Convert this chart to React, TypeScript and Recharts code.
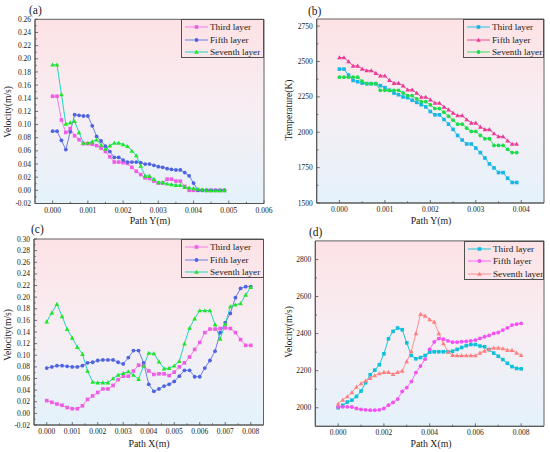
import React from "react";
import { LineChart, Line, XAxis, YAxis, CartesianGrid, ReferenceArea, Legend } from "recharts";

const FONT = "'Liberation Serif', 'Times New Roman', serif";
const AXIS = "#505050";

// (a) velocity along path Y
const pathYA = [0, 0.000125, 0.00025, 0.000375, 0.0005, 0.000625, 0.00075, 0.000875, 0.001, 0.001125,
  0.00125, 0.001375, 0.0015, 0.001625, 0.00175, 0.001875, 0.002, 0.002125, 0.00225, 0.002375,
  0.0025, 0.002625, 0.00275, 0.002875, 0.003, 0.003125, 0.00325, 0.003375, 0.0035, 0.003625,
  0.00375, 0.003875, 0.004, 0.004125, 0.00425, 0.004375, 0.0045, 0.004625, 0.00475, 0.004875];
const thirdA = [0.143, 0.143, 0.107, 0.088, 0.094, 0.083, 0.077, 0.071, 0.071, 0.070,
  0.068, 0.064, 0.059, 0.051, 0.043, 0.043, 0.042, 0.041, 0.035, 0.029,
  0.024, 0.019, 0.018, 0.014, 0.011, 0.011, 0.017, 0.017, 0.014, 0.014,
  0.006, 0, 0, 0, 0, 0, 0, 0, 0, 0];
const fifthA = [0.090, 0.090, 0.076, 0.062, 0.089, 0.115, 0.114, 0.113, 0.113, 0.098,
  0.082, 0.075, 0.067, 0.059, 0.050, 0.050, 0.046, 0.043, 0.043, 0.043,
  0.042, 0.040, 0.040, 0.038, 0.036, 0.035, 0.033, 0.032, 0.031, 0.031,
  0.027, 0.022, 0.011, 0, 0, 0, 0, 0, 0, 0];
const seventhA = [0.191, 0.191, 0.146, 0.101, 0.103, 0.105, 0.088, 0.072, 0.072, 0.074,
  0.077, 0.069, 0.063, 0.068, 0.072, 0.072, 0.070, 0.067, 0.060, 0.053,
  0.037, 0.022, 0.022, 0.017, 0.012, 0.012, 0.010, 0.009, 0.008, 0.008,
  0.005, 0.004, 0.003, 0.002, 0.001, 0, 0, 0, 0, 0];

// (b) temperature along path Y
const pathYB = [0, 0.0001, 0.0002, 0.0003, 0.0004, 0.0005, 0.0006, 0.0007, 0.0008, 0.0009,
  0.001, 0.0011, 0.0012, 0.0013, 0.0014, 0.0015, 0.0016, 0.0017, 0.0018, 0.0019,
  0.002, 0.0021, 0.0022, 0.0023, 0.0024, 0.0025, 0.0026, 0.0027, 0.0028, 0.0029,
  0.003, 0.0031, 0.0032, 0.0033, 0.0034, 0.0035, 0.0036, 0.0037, 0.0038, 0.0039];
const thirdB = [2446, 2446, 2404, 2366, 2357, 2347, 2343, 2343, 2343, 2329,
  2315, 2296, 2277, 2265, 2249, 2244, 2226, 2211, 2195, 2179,
  2146, 2123, 2123, 2090, 2057, 2020, 1977, 1945, 1917, 1917,
  1888, 1856, 1818, 1776, 1748, 1715, 1715, 1675, 1645, 1645];
const fifthB = [2528, 2528, 2500, 2469, 2469, 2448, 2436, 2436, 2418, 2399,
  2399, 2368, 2347, 2347, 2329, 2300, 2300, 2277, 2249, 2249,
  2230, 2207, 2207, 2179, 2160, 2137, 2118, 2118, 2090, 2066,
  2066, 2038, 2020, 2020, 1991, 1970, 1970, 1940, 1917, 1917];
const seventhB = [2389, 2389, 2389, 2389, 2389, 2361, 2343, 2343, 2343, 2296,
  2296, 2296, 2296, 2296, 2277, 2258, 2258, 2235, 2216, 2216,
  2193, 2167, 2167, 2141, 2113, 2085, 2057, 2057, 2029, 2006,
  2006, 1977, 1954, 1954, 1907, 1907, 1907, 1879, 1856, 1856];

// (c) velocity and (d) temperature along path X
const pathX = [0, 0.0002, 0.0004, 0.0006, 0.0008, 0.001, 0.0012, 0.0014, 0.0016, 0.0018,
  0.002, 0.0022, 0.0024, 0.0026, 0.0028, 0.003, 0.0032, 0.0034, 0.0036, 0.0038,
  0.004, 0.0042, 0.0044, 0.0046, 0.0048, 0.005, 0.0052, 0.0054, 0.0056, 0.0058,
  0.006, 0.0062, 0.0064, 0.0066, 0.0068, 0.007, 0.0072, 0.0074, 0.0076, 0.0078, 0.008];
const thirdC = [0.022, 0.019, 0.016, 0.014, 0.010, 0.008, 0.008, 0.013, 0.024, 0.030,
  0.036, 0.042, 0.042, 0.048, 0.058, 0.064, 0.064, 0.073, 0.083, 0.082,
  0.073, 0.067, 0.068, 0.068, 0.065, 0.071, 0.080, 0.087, 0.097, 0.110,
  0.122, 0.139, 0.145, 0.145, 0.146, 0.147, 0.146, 0.139, 0.127, 0.117, 0.117];
const fifthC = [0.078, 0.080, 0.082, 0.082, 0.081, 0.080, 0.080, 0.082, 0.087, 0.088,
  0.091, 0.092, 0.092, 0.092, 0.088, 0.085, 0.096, 0.108, 0.108, 0.087,
  0.050, 0.038, 0.042, 0.047, 0.050, 0.055, 0.064, 0.074, 0.074, 0.063,
  0.063, 0.078, 0.091, 0.107, 0.139, 0.156, 0.172, 0.199, 0.215, 0.218, 0.218];
const seventhC = [0.158, 0.173, 0.188, 0.167, 0.145, 0.130, 0.114, 0.102, 0.073, 0.054,
  0.053, 0.053, 0.053, 0.060, 0.066, 0.069, 0.072, 0.066, 0.059, 0.082,
  0.104, 0.103, 0.089, 0.077, 0.078, 0.082, 0.090, 0.120, 0.147, 0.163,
  0.177, 0.177, 0.177, 0.153, 0.128, 0.154, 0.184, 0.187, 0.189, 0.204, 0.217];
const thirdD = [2000, 2013, 2031, 2041, 2061, 2090, 2135, 2178, 2203, 2232,
  2291, 2372, 2412, 2430, 2421, 2350, 2282, 2264, 2271, 2282,
  2300, 2302, 2302, 2302, 2302, 2305, 2315, 2325, 2335, 2341,
  2341, 2333, 2329, 2313, 2295, 2278, 2260, 2240, 2222, 2212, 2210];
const fifthD = [2004, 2005, 2005, 2004, 1996, 1991, 1989, 1987, 1987, 1989,
  1996, 2014, 2029, 2047, 2088, 2109, 2141, 2190, 2225, 2262,
  2315, 2355, 2373, 2370, 2361, 2354, 2354, 2356, 2358, 2361,
  2365, 2374, 2383, 2390, 2401, 2406, 2419, 2431, 2446, 2451, 2455];
const seventhD = [2022, 2043, 2061, 2083, 2112, 2131, 2146, 2160, 2174, 2185,
  2192, 2192, 2181, 2192, 2199, 2250, 2305, 2401, 2505, 2496,
  2476, 2463, 2401, 2347, 2302, 2284, 2282, 2282, 2282, 2282,
  2282, 2296, 2307, 2318, 2323, 2323, 2320, 2311, 2311, 2296, 2284];

// major tick labels
const xTicksA = [0, 0.001, 0.002, 0.003, 0.004, 0.005, 0.006];
const xTicksB = [0, 0.001, 0.002, 0.003, 0.004];
const xTicksC = [0, 0.001, 0.002, 0.003, 0.004, 0.005, 0.006, 0.007, 0.008];
const xTicksD = [0, 0.002, 0.004, 0.006, 0.008];
const yTicksA = [-0.02, 0, 0.02, 0.04, 0.06, 0.08, 0.1, 0.12, 0.14, 0.16, 0.18, 0.2, 0.22, 0.24, 0.26];
const yTicksB = [1500, 1750, 2000, 2250, 2500, 2750];
const yTicksC = [-0.02, 0, 0.02, 0.04, 0.06, 0.08, 0.1, 0.12, 0.14, 0.16, 0.18, 0.2, 0.22, 0.24, 0.26, 0.28, 0.3];
const yTicksD = [2000, 2200, 2400, 2600, 2800];

type Shape = "square" | "circle" | "triangle";
type Meta = { key: string; name: string; line: string; mark: string; shape: Shape };

const velocitySeries: Meta[] = [
  { key: "third", name: "Third layer", line: "#f47de9", mark: "#ef5ce6", shape: "square" },
  { key: "fifth", name: "Fifth layer", line: "#6b7fe6", mark: "#4f62e2", shape: "circle" },
  { key: "seventh", name: "Seventh layer", line: "#20d6bf", mark: "#1fe61f", shape: "triangle" },
];
const tempSeriesB: Meta[] = [
  { key: "third", name: "Third layer", line: "#29c2e8", mark: "#17b6e6", shape: "square" },
  { key: "fifth", name: "Fifth layer", line: "#f04a9c", mark: "#ec3b94", shape: "triangle" },
  { key: "seventh", name: "Seventh layer", line: "#3ade62", mark: "#1cdc4c", shape: "circle" },
];
const tempSeriesD: Meta[] = [
  { key: "third", name: "Third layer", line: "#17c7dc", mark: "#0fc0da", shape: "square" },
  { key: "fifth", name: "Fifth layer", line: "#ff66ff", mark: "#f450f4", shape: "circle" },
  { key: "seventh", name: "Seventh layer", line: "#ff9090", mark: "#ff7f7f", shape: "triangle" },
];

function rows(x: number[], a: number[], b: number[], c: number[]) {
  return x.map((v, i) => ({ x: v, third: a[i], fifth: b[i], seventh: c[i] }));
}

function withMinors(major: number[]) {
  const out: number[] = [];
  major.forEach((m, i) => {
    out.push(m);
    if (i < major.length - 1) out.push((m + major[i + 1]) / 2);
  });
  return out;
}

function Marker({ cx, cy, shape, color, s = 1 }: { cx: number; cy: number; shape: Shape; color: string; s?: number }) {
  if (shape === "square") return <rect x={cx - 1.8 * s} y={cy - 1.8 * s} width={3.6 * s} height={3.6 * s} fill={color} />;
  if (shape === "circle") return <circle cx={cx} cy={cy} r={1.9 * s} fill={color} />;
  const h = 2.3 * s;
  return <polygon points={`${cx},${cy - h} ${cx + h},${cy + h * 0.8} ${cx - h},${cy + h * 0.8}`} fill={color} />;
}

const isMajor = (major: number[], v: number) => major.some((m) => Math.abs(m - v) < 1e-9);

const xTick = (major: number[], digits: number) => (p: any) => {
  const v = p.payload.value;
  const big = isMajor(major, v);
  return (
    <g>
      <line x1={p.x} x2={p.x} y1={p.y} y2={p.y - (big ? 3 : 1.7)} stroke={AXIS} strokeWidth={0.8} />
      {big && (
        <text x={p.x} y={p.y + 9} textAnchor="middle" fontSize={7.5} fontFamily={FONT} fill="#222">
          {v.toFixed(digits)}
        </text>
      )}
    </g>
  );
};

const yTick = (major: number[], digits: number) => (p: any) => {
  const v = p.payload.value;
  const big = isMajor(major, v);
  return (
    <g>
      <line x1={p.x} x2={p.x + (big ? 3 : 1.7)} y1={p.y} y2={p.y} stroke={AXIS} strokeWidth={0.8} />
      {big && (
        <text x={p.x - 4} y={p.y + 2.6} textAnchor="end" fontSize={7.5} fontFamily={FONT} fill="#222">
          {v.toFixed(digits)}
        </text>
      )}
    </g>
  );
};

type PanelProps = {
  id: string;
  left: number;
  top: number;
  data: any[];
  series: Meta[];
  plot: { top: number; right: number; bottom: number; left: number };
  xDomain: [number, number];
  xTicks: number[];
  xDigits: number;
  yDomain: [number, number];
  yTicks: number[];
  yDigits: number;
  legend: { left: number; top: number; width: number; height: number };
};

function Panel(p: PanelProps) {
  // axes take 1px each, so the margins are reduced by 1 to keep the plot box where it belongs
  const margin = { top: p.plot.top, right: p.plot.right, bottom: p.plot.bottom - 1, left: p.plot.left - 1 };

  const legendContent = () => (
    <div
      style={{
        width: p.legend.width,
        height: p.legend.height,
        border: `0.8px solid ${AXIS}`,
        boxSizing: "border-box",
        fontFamily: FONT,
        fontSize: 9.2,
        color: "#1a1a1a",
        paddingTop: 1,
      }}
    >
      {p.series.map((m) => (
        <div key={m.key} style={{ height: 12.4, display: "flex", alignItems: "center", whiteSpace: "nowrap" }}>
          <svg width={25} height={8} style={{ marginLeft: 3, flex: "none" }}>
            <line x1={0} x2={23} y1={4} y2={4} stroke={m.line} strokeWidth={1} />
            <Marker cx={11.5} cy={4} shape={m.shape} color={m.mark} />
          </svg>
          <span>{m.name}</span>
        </div>
      ))}
    </div>
  );

  return (
    <div style={{ position: "absolute", left: p.left, top: p.top }}>
      <LineChart width={275} height={226} data={p.data} margin={margin}>
        <defs>
          <linearGradient id={`bg-${p.id}`} x1="0" y1="0" x2="0" y2="1">
            <stop offset="0%" stopColor="#fde2e5" />
            <stop offset="50%" stopColor="#f7eef3" />
            <stop offset="100%" stopColor="#e4f2fb" />
          </linearGradient>
        </defs>
        <CartesianGrid fill={`url(#bg-${p.id})`} horizontal={false} vertical={false} stroke="none" />
        <XAxis
          type="number"
          dataKey="x"
          domain={p.xDomain}
          ticks={withMinors(p.xTicks)}
          interval={0}
          height={1}
          tickSize={0}
          tickMargin={0}
          tickLine={false}
          axisLine={{ stroke: AXIS, strokeWidth: 0.9 }}
          tick={xTick(p.xTicks, p.xDigits)}
          allowDataOverflow
        />
        <YAxis
          type="number"
          domain={p.yDomain}
          ticks={withMinors(p.yTicks)}
          interval={0}
          width={1}
          tickSize={0}
          tickMargin={0}
          tickLine={false}
          axisLine={{ stroke: AXIS, strokeWidth: 0.9 }}
          tick={yTick(p.yTicks, p.yDigits)}
          allowDataOverflow
        />
        {p.series.map((s) => (
          <Line
            key={s.key}
            type="linear"
            dataKey={s.key}
            name={s.name}
            stroke={s.line}
            strokeWidth={1}
            isAnimationActive={false}
            activeDot={false}
            dot={(d: any) => <Marker key={`${s.key}-${d.index}`} cx={d.cx} cy={d.cy} shape={s.shape} color={s.mark} />}
          />
        ))}
        <ReferenceArea
          x1={p.xDomain[0]}
          x2={p.xDomain[1]}
          y1={p.yDomain[0]}
          y2={p.yDomain[1]}
          fill="none"
          stroke={AXIS}
          strokeWidth={0.9}
        />
        <Legend
          layout="horizontal"
          align="center"
          verticalAlign="middle"
          content={legendContent}
          wrapperStyle={{ left: p.legend.left, top: p.legend.top, width: p.legend.width, height: p.legend.height }}
        />
      </LineChart>
    </div>
  );
}

export default function App() {
  const txt = { fontFamily: FONT, fill: "#1a1a1a" } as const;
  return (
    <div style={{ position: "absolute", left: 0, top: 0, width: 550, height: 452, background: "#fff", overflow: "hidden" }}>
      <Panel
        id="a"
        left={0}
        top={0}
        data={rows(pathYA, thirdA, fifthA, seventhA)}
        series={velocitySeries}
        plot={{ top: 19.3, right: 11, bottom: 22.5, left: 35 }}
        xDomain={[-0.0005, 0.006]}
        xTicks={xTicksA}
        xDigits={3}
        yDomain={[-0.02, 0.26]}
        yTicks={yTicksA}
        yDigits={2}
        legend={{ left: 181, top: 19.3, width: 83, height: 39 }}
      />
      <Panel
        id="b"
        left={275}
        top={0}
        data={rows(pathYB, thirdB, fifthB, seventhB)}
        series={tempSeriesB}
        plot={{ top: 19, right: 6, bottom: 23, left: 41.7 }}
        xDomain={[-0.0005, 0.0045]}
        xTicks={xTicksB}
        xDigits={3}
        yDomain={[1500, 2800]}
        yTicks={yTicksB}
        yDigits={0}
        legend={{ left: 188, top: 19, width: 81, height: 39 }}
      />
      <Panel
        id="c"
        left={0}
        top={226}
        data={rows(pathX, thirdC, fifthC, seventhC)}
        series={velocitySeries}
        plot={{ top: 13, right: 11.5, bottom: 27, left: 34 }}
        xDomain={[-0.0005, 0.0085]}
        xTicks={xTicksC}
        xDigits={3}
        yDomain={[-0.02, 0.3]}
        yTicks={yTicksC}
        yDigits={2}
        legend={{ left: 181, top: 13, width: 82.5, height: 39 }}
      />
      <Panel
        id="d"
        left={275}
        top={226}
        data={rows(pathX, thirdD, fifthD, seventhD)}
        series={tempSeriesD}
        plot={{ top: 14.9, right: 6, bottom: 25.7, left: 40.3 }}
        xDomain={[-0.001, 0.009]}
        xTicks={xTicksD}
        xDigits={3}
        yDomain={[1900, 2900]}
        yTicks={yTicksD}
        yDigits={0}
        legend={{ left: 189, top: 14.9, width: 80, height: 39 }}
      />
      <svg width={550} height={452} style={{ position: "absolute", left: 0, top: 0, pointerEvents: "none" }}>
        <text x={29} y={13.5} fontSize={11.5} {...txt}>(a)</text>
        <text x={308} y={14.5} fontSize={11.5} {...txt}>(b)</text>
        <text x={31} y={233} fontSize={11.5} {...txt}>(c)</text>
        <text x={309} y={236} fontSize={11.5} {...txt}>(d)</text>
        <text x={150} y={223.5} fontSize={9.8} textAnchor="middle" {...txt}>Path Y(m)</text>
        <text x={431} y={224} fontSize={9.8} textAnchor="middle" {...txt}>Path Y(m)</text>
        <text x={149} y={447} fontSize={9.8} textAnchor="middle" {...txt}>Path X(m)</text>
        <text x={431} y={447} fontSize={9.8} textAnchor="middle" {...txt}>Path X(m)</text>
        <text transform="translate(10.5,112) rotate(-90)" fontSize={9.5} textAnchor="middle" {...txt}>Velocity(m/s)</text>
        <text transform="translate(292,110) rotate(-90)" fontSize={9.5} textAnchor="middle" {...txt}>Temperature(K)</text>
        <text transform="translate(10.5,335) rotate(-90)" fontSize={9.5} textAnchor="middle" {...txt}>Velocity(m/s)</text>
        <text transform="translate(291.5,332) rotate(-90)" fontSize={9.5} textAnchor="middle" {...txt}>Velocity(m/s)</text>
      </svg>
    </div>
  );
}
